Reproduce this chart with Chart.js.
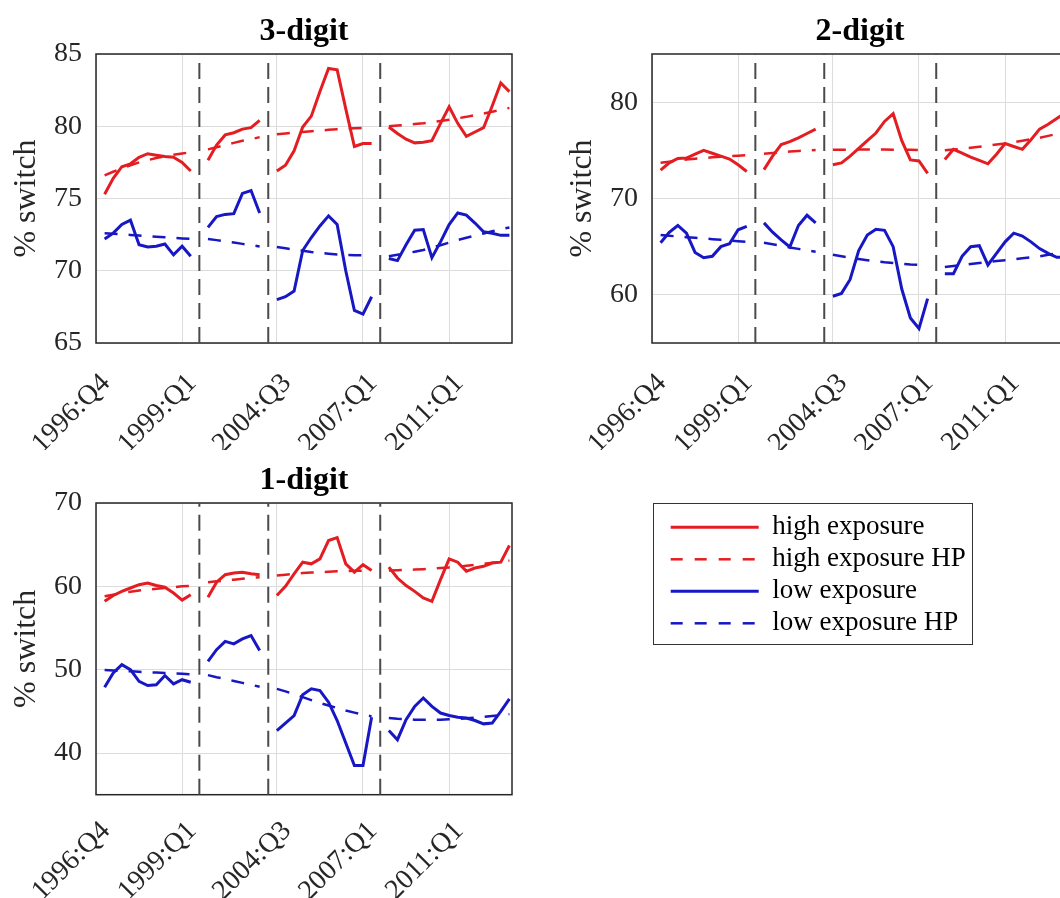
<!DOCTYPE html>
<html>
<head>
<meta charset="utf-8">
<title>Share of switchers by exposure</title>
<script src="https://cdn.jsdelivr.net/npm/chart.js@4.4.1/dist/chart.umd.min.js"></script>
<style>
  html, body { margin: 0; padding: 0; background: #fff; overflow: hidden; }
  body { width: 1060px; height: 898px; position: relative; }
  canvas { position: absolute; }
  #legendBox { position: absolute; left: 653px; top: 503px; width: 318px; height: 140px;
               border: 1.5px solid #333; overflow: hidden; }
</style>
</head>
<body>
<canvas id="c3" width="540" height="450" style="left:0;top:0"></canvas>
<canvas id="c2" width="540" height="450" style="left:556px;top:0"></canvas>
<canvas id="c1" width="540" height="449" style="left:0;top:449px"></canvas>
<div id="legendBox"><canvas id="leg" width="318" height="300"></canvas></div>
<script>
// quarter index along the x axis (survey breaks left as gaps)
const obsIdx = [1, 2, 3, 4, 5, 6, 7, 8, 9, 10, 11, 12, 13, 14, 15, 16, 17, 18, 19, 20,
                21, 22, 23, 24, 25, 26, 27, 28, 29, 30, 31, 32, 33, 34, 35, 36, 37, 38, 39, 40,
                41, 42, 43, 44, 45, 46, 47, 48];
const breaks = [12, 20, 33];
const tickPos = [0, 10, 21, 31, 41];
const tickLabels = ['1996:Q4', '1999:Q1', '2004:Q3', '2007:Q1', '2011:Q1'];

// 3-digit
const high3 = [75.3, 76.4, 77.2, 77.4, 77.85, 78.1, 78.0, 77.9, 77.85, 77.5, 76.9, null,
  77.65, 78.7, 79.4, 79.55, 79.8, 79.9, 80.4, null,
  76.9, 77.3, 78.3, 79.95, 80.7, 82.4, 84.0, 83.9, 81.2, 78.6, 78.8, 78.8, null,
  79.95, 79.5, 79.1, 78.85, 78.9, 79.0, 80.2, 81.35, 80.2, 79.3, 79.6, 79.9, 81.4, 83.0, 82.4];
const highHP3 = [76.6, 76.85, 77.1, 77.3, 77.5, 77.65, 77.8, 77.92, 78.03, 78.12, 78.2, null,
  78.4, 78.55, 78.7, 78.85, 79.0, 79.1, 79.25, null,
  79.45, 79.5, 79.55, 79.6, 79.65, 79.7, 79.75, 79.8, 79.83, 79.86, 79.88, 79.9, null,
  80.0, 80.05, 80.1, 80.15, 80.2, 80.28, 80.36, 80.45, 80.55, 80.65, 80.77, 80.88, 81.0, 81.13, 81.27];
const low3 = [72.2, 72.6, 73.2, 73.5, 71.8, 71.65, 71.7, 71.85, 71.1, 71.7, 71.0, null,
  73.0, 73.75, 73.9, 73.95, 75.35, 75.55, 74.0, null,
  68.0, 68.2, 68.6, 71.4, 72.3, 73.1, 73.8, 73.2, 70.0, 67.25, 67.0, 68.2, null,
  70.85, 70.7, 71.8, 72.8, 72.85, 70.9, 72.0, 73.2, 74.0, 73.85, 73.3, 72.7, 72.6, 72.45, 72.45];
const lowHP3 = [72.6, 72.56, 72.52, 72.48, 72.44, 72.4, 72.36, 72.32, 72.28, 72.24, 72.2, null,
  72.2, 72.12, 72.03, 71.95, 71.86, 71.77, 71.68, null,
  71.65, 71.55, 71.45, 71.38, 71.3, 71.24, 71.18, 71.13, 71.1, 71.08, 71.07, 71.07, null,
  71.0, 71.1, 71.2, 71.32, 71.44, 71.6, 71.77, 71.95, 72.13, 72.28, 72.43, 72.58, 72.73, 72.88, 73.0];

// 2-digit
const high2 = [72.95, 73.7, 74.15, 74.2, 74.6, 75.0, 74.7, 74.4, 74.1, 73.5, 72.8, null,
  73.0, 74.4, 75.6, 75.9, 76.3, 76.75, 77.2, null,
  73.5, 73.7, 74.4, 75.2, 76.0, 76.8, 78.0, 78.8, 76.0, 74.0, 73.9, 72.6, null,
  74.05, 75.1, 74.7, 74.3, 73.95, 73.6, 74.6, 75.7, 75.4, 75.1, 76.1, 77.2, 77.7, 78.3, 78.9];
const highHP2 = [73.7, 73.82, 73.94, 74.04, 74.13, 74.2, 74.27, 74.34, 74.4, 74.45, 74.5, null,
  74.65, 74.73, 74.8, 74.87, 74.93, 74.98, 75.03, null,
  75.05, 75.06, 75.07, 75.08, 75.08, 75.08, 75.08, 75.07, 75.06, 75.05, 75.04, 75.03, null,
  75.0, 75.08, 75.17, 75.27, 75.37, 75.48, 75.6, 75.72, 75.85, 76.0, 76.15, 76.3, 76.5, 76.7, 76.9];
const low2 = [65.4, 66.5, 67.2, 66.4, 64.4, 63.85, 64.0, 65.0, 65.3, 66.75, 67.1, null,
  67.47, 66.5, 65.7, 64.97, 67.2, 68.26, 67.47, null,
  59.85, 60.15, 61.6, 64.6, 66.2, 66.8, 66.7, 65.0, 60.6, 57.6, 56.5, 59.6, null,
  62.2, 62.2, 64.0, 65.0, 65.1, 63.1, 64.3, 65.5, 66.4, 66.1, 65.5, 64.8, 64.3, 63.9, 63.9];
const lowHP2 = [66.2, 66.13, 66.06, 65.99, 65.92, 65.85, 65.78, 65.71, 65.64, 65.57, 65.5, null,
  65.4, 65.24, 65.08, 64.92, 64.77, 64.62, 64.47, null,
  64.15, 64.0, 63.85, 63.72, 63.6, 63.48, 63.38, 63.3, 63.22, 63.15, 63.1, 63.07, null,
  62.9, 63.0, 63.1, 63.2, 63.3, 63.4, 63.5, 63.6, 63.7, 63.8, 63.9, 64.0, 64.15, 64.3, 64.45];

// 1-digit
const high1 = [58.2, 58.9, 59.4, 59.8, 60.2, 60.4, 60.1, 59.9, 59.2, 58.35, 59.0, null,
  58.7, 60.5, 61.4, 61.6, 61.7, 61.5, 61.4, null,
  58.9, 60.0, 61.5, 62.9, 62.7, 63.3, 65.5, 65.85, 62.7, 61.7, 62.6, 61.9, null,
  62.3, 61.0, 60.1, 59.4, 58.6, 58.2, 60.8, 63.3, 62.9, 61.8, 62.2, 62.4, 62.8, 62.9, 64.9];
const highHP1 = [58.8, 59.0, 59.2, 59.35, 59.5, 59.6, 59.7, 59.8, 59.9, 60.0, 60.05, null,
  60.5, 60.6, 60.7, 60.8, 60.9, 61.0, 61.1, null,
  61.3, 61.4, 61.5, 61.6, 61.65, 61.7, 61.75, 61.8, 61.83, 61.86, 61.88, 61.9, null,
  61.9, 61.93, 61.97, 62.01, 62.06, 62.12, 62.19, 62.27, 62.36, 62.46, 62.57, 62.69, 62.82, 62.96, 63.1];
const low1 = [47.9, 49.6, 50.6, 50.0, 48.6, 48.1, 48.2, 49.3, 48.3, 48.8, 48.5, null,
  51.0, 52.4, 53.4, 53.1, 53.7, 54.1, 52.3, null,
  42.7, 43.6, 44.5, 47.0, 47.7, 47.5, 46.1, 43.9, 41.2, 38.5, 38.5, 44.3, null,
  42.7, 41.6, 44.0, 45.6, 46.6, 45.6, 44.8, 44.5, 44.3, 44.2, 43.9, 43.5, 43.6, 45.0, 46.5];
const lowHP1 = [49.95, 49.9, 49.85, 49.8, 49.75, 49.7, 49.65, 49.6, 49.55, 49.5, 49.45, null,
  49.35, 49.1, 48.88, 48.65, 48.42, 48.2, 47.95, null,
  47.7, 47.4, 47.05, 46.7, 46.35, 46.0, 45.7, 45.4, 45.1, 44.85, 44.6, 44.4, null,
  44.2, 44.1, 44.05, 44.0, 43.98, 43.98, 44.0, 44.05, 44.1, 44.17, 44.25, 44.35, 44.45, 44.55, 44.65];

const seriesNames = ['high exposure', 'high exposure HP', 'low exposure', 'low exposure HP'];

// === STYLE ===
const FONT = "'Liberation Serif', 'Times New Roman', serif";
const RED = '#e41d22';
const BLUE = '#1717c4';
const INK = '#262626';
const HP_DASH = [13, 11];

Chart.defaults.font.family = FONT;

function toPoints(vals) {
  return obsIdx.map((x, i) => ({ x: x, y: vals[i] }));
}

// vertical dashed markers at the survey breaks
function breakPoints(lo, hi) {
  const pts = [];
  breaks.forEach(b => { pts.push({ x: b, y: lo }, { x: b, y: hi }, { x: b, y: null }); });
  return pts;
}

// box round the plot area
const framePlugin = {
  id: 'frame',
  beforeDatasetsDraw(chart) {
    const a = chart.chartArea;
    const ctx = chart.ctx;
    ctx.save();
    ctx.strokeStyle = INK;
    ctx.lineWidth = 1.5;
    ctx.strokeRect(a.left, a.top, a.right - a.left, a.bottom - a.top);
    ctx.restore();
  }
};

function makePanel(id, title, high, highHP, low, lowHP, yMin, yMax, yTicks, xHeight, labelPad) {
  const lineOpts = { pointRadius: 0, tension: 0, spanGaps: false, fill: false };
  return new Chart(document.getElementById(id), {
    type: 'line',
    data: {
      datasets: [
        { label: seriesNames[0], data: toPoints(high), borderColor: RED, borderWidth: 3, ...lineOpts },
        { label: seriesNames[1], data: toPoints(highHP), borderColor: RED, borderWidth: 2.5, borderDash: HP_DASH, ...lineOpts },
        { label: seriesNames[2], data: toPoints(low), borderColor: BLUE, borderWidth: 3, ...lineOpts },
        { label: seriesNames[3], data: toPoints(lowHP), borderColor: BLUE, borderWidth: 2.5, borderDash: HP_DASH, ...lineOpts },
        { label: 'break', data: breakPoints(yMin, yMax), borderColor: '#4a4a4a', borderWidth: 2, borderDash: [16, 8], ...lineOpts }
      ]
    },
    options: {
      responsive: false,
      animation: false,
      events: [],
      layout: { autoPadding: false, padding: { left: 3, right: 28, top: 0, bottom: 0 } },
      plugins: {
        legend: { display: false },
        tooltip: { enabled: false },
        title: {
          display: true, text: title, fullSize: false, color: '#000',
          font: { family: FONT, size: 32, weight: 'bold' },
          padding: { top: 12.8, bottom: 2.8 }
        }
      },
      scales: {
        x: {
          type: 'linear', min: 0, max: 48.3,
          afterBuildTicks: s => { s.ticks = tickPos.map(v => ({ value: v })); },
          afterFit: s => { s.height = xHeight; },
          grid: { color: '#dcdcdc', lineWidth: 1, drawTicks: false },
          border: { display: false },
          ticks: {
            autoSkip: false, minRotation: 45, maxRotation: 45,
            padding: labelPad, labelOffset: 10, color: INK,
            font: { family: FONT, size: 28 },
            callback: (v, i) => tickLabels[i]
          }
        },
        y: {
          min: yMin, max: yMax,
          afterBuildTicks: s => { s.ticks = yTicks.map(v => ({ value: v })); },
          afterFit: s => { s.width = 93; },
          grid: { color: '#dcdcdc', lineWidth: 1, drawTicks: false },
          border: { display: false },
          title: {
            display: true, text: '% switch', color: INK,
            font: { family: FONT, size: 32 }, padding: { top: 4, bottom: 4 }
          },
          ticks: { padding: 14, color: INK, font: { family: FONT, size: 28 } }
        }
      }
    },
    plugins: [framePlugin]
  });
}

makePanel('c3', '3-digit', high3, highHP3, low3, lowHP3, 65, 85, [65, 70, 75, 80, 85], 107, 24);
makePanel('c2', '2-digit', high2, highHP2, low2, lowHP2, 55, 85, [60, 70, 80], 107, 24);
makePanel('c1', '1-digit', high1, highHP1, low1, lowHP1, 35, 70, [40, 50, 60, 70], 103.3, 20);

// === LEGEND ===
const LEGEND_DASH = [12, 12];
new Chart(document.getElementById('leg'), {
  type: 'line',
  data: {
    datasets: [
      { label: seriesNames[0], data: [], borderColor: RED, borderWidth: 3 },
      { label: seriesNames[1], data: [], borderColor: RED, borderWidth: 2.5, borderDash: LEGEND_DASH },
      { label: seriesNames[2], data: [], borderColor: BLUE, borderWidth: 3 },
      { label: seriesNames[3], data: [], borderColor: BLUE, borderWidth: 2.5, borderDash: LEGEND_DASH }
    ]
  },
  options: {
    responsive: false,
    animation: false,
    events: [],
    layout: { padding: { left: 11.7, top: 4.8 } },
    scales: { x: { display: false }, y: { display: false } },
    plugins: {
      tooltip: { enabled: false },
      legend: {
        position: 'top', align: 'start',
        labels: {
          usePointStyle: true, pointStyle: 'line', pointStyleWidth: 88,
          padding: 5, color: '#000', font: { family: FONT, size: 27 },
          generateLabels: chart => chart.data.datasets.map((ds, i) => ({
            text: ds.label,
            datasetIndex: i,
            strokeStyle: ds.borderColor,
            fillStyle: 'rgba(0,0,0,0)',
            lineWidth: ds.borderWidth,
            lineDash: ds.borderDash || [],
            lineCap: 'butt',
            pointStyle: 'line',
            fontColor: '#000',
            hidden: false
          }))
        }
      }
    }
  }
});
</script>
</body>
</html>
